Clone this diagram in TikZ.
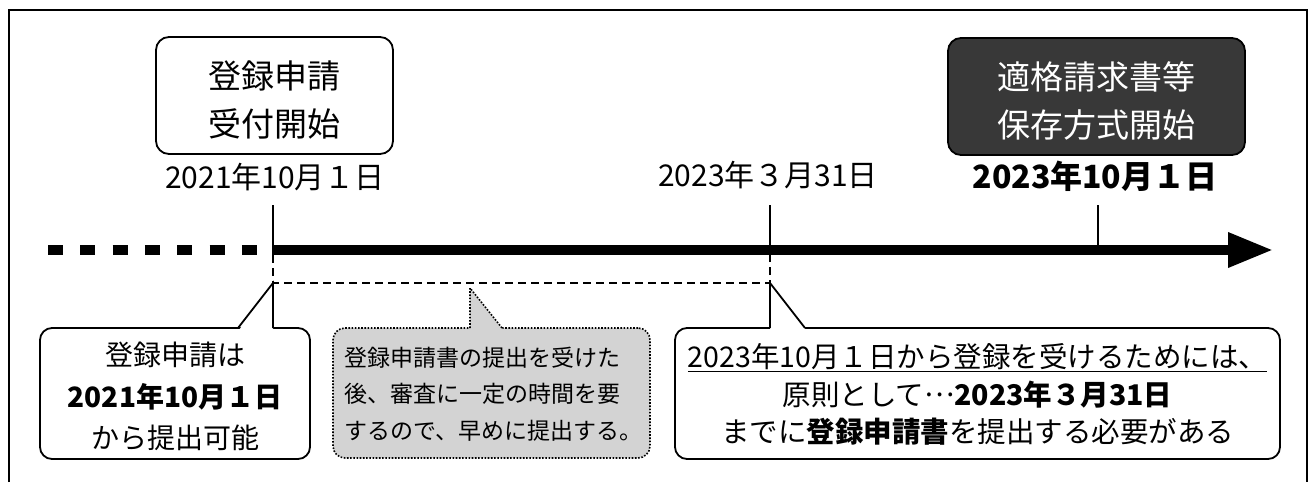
\documentclass[tikz,border=0pt]{standalone}
\usepackage{fontspec}
\setmainfont{Noto Sans CJK JP}
\usetikzlibrary{arrows.meta,calc}
\definecolor{darkbox}{HTML}{383838}
\definecolor{bubblegray}{HTML}{D3D3D3}
\newcommand{\midellipsis}{\raisebox{0.3em}{…}}
\begin{document}
\begin{tikzpicture}[x=1pt,y=-1pt,
  boxline/.style={line width=1.8pt},
  titlebox/.style={draw, boxline, rounded corners=13pt, minimum width=237pt, minimum height=117pt, inner sep=0pt},
  darktitle/.style={titlebox, fill=darkbox, minimum width=297pt},
  titletext/.style={align=center, inner sep=0pt, font=\fontsize{33}{48}\selectfont},
  datetext/.style={inner sep=0pt, text height=0.88em, text depth=0.12em, font=\fontsize{30}{36}\selectfont},
  calloutbox/.style={draw, boxline, fill=white, rounded corners=12pt, inner sep=0pt},
  bubblebox/.style={draw, line width=1.6pt, dash pattern=on 1.6pt off 1.6pt, fill=bubblegray, rounded corners=12pt, inner sep=0pt},
  tickline/.style={line width=1.8pt},
  bracketline/.style={line width=1.8pt, dash pattern=on 8pt off 5pt},
]
\useasboundingbox (0,0) rectangle (1311,482);
% outer frame (open at the bottom)
\draw[line width=1.8pt] (9,482) -- (9,10) -- (1307,10) -- (1307,482);

% title boxes
\node[titlebox] (reg) at (274.5,95.5) {};
\node[titletext] (regT) at ($(reg.center)+(0,4.5)$) {登録申請\\受付開始};
\node[darktitle] (inv) at (1096.5,96.5) {};
\node[titletext, text=white] (invT) at ($(inv.center)+(0,4)$) {適格請求書等\\保存方式開始};

% dates
\node[datetext] (dateA) at (275,185) {2021年10月１日};
\node[datetext] (dateB) at (768,183) {2023年３月31日};
\node[datetext, font=\fontsize{32}{38}\selectfont\bfseries] (dateC) at (1095,185) {2023年10月１日};

% timeline
\coordinate (tl0) at (48,250);
\coordinate (tlA) at (261,250);
\coordinate (tl1) at (272,250);
\coordinate (tlend) at (1273,250);
\draw[line width=10pt, dash pattern=on 15pt off 17.3pt] (tl0) -- (tlA);
\draw[line width=9.5pt, -{Triangle[length=45pt,width=33pt]}] (tl1) -- (tlend);

% ticks
\coordinate (t1top) at (273,205);
\coordinate (t1) at (273,250);
\coordinate (t2top) at (770,205);
\coordinate (t2) at (770,250);
\coordinate (t3top) at (1098,205);
\coordinate (t3) at (1098,250);
\draw[tickline] (t1top) -- (t1);
\draw[tickline] (t2top) -- (t2);
\draw[tickline] (t3top) -- (t3);

% dashed bracket
\coordinate (b1) at (273,255);
\coordinate (b1c) at (273,283);
\coordinate (b2c) at (770,283);
\coordinate (b2) at (770,255);
\draw[bracketline] (b1) -- (b1c) -- (b2c) -- (b2);

% left callout
\node[calloutbox, minimum width=270pt, minimum height=131pt] (cl) at (175,393.5) {};
\coordinate (clA) at (238,328);
\coordinate (clB) at (273,328);
\fill[white] (239,330) -- (b1c) -- (273,330) -- cycle;
\draw[boxline, line join=miter] (clA) -- (b1c) -- (clB);
\node[align=center, inner sep=0pt, font=\fontsize{28}{41.5}\selectfont] (clT) at ($(cl.center)+(0,3)$)
  {登録申請は\\\textbf{2021年10月１日}\\から提出可能};

% middle bubble
\coordinate (mp) at (470,288);
\coordinate (mA) at (470,328);
\coordinate (mB) at (502,328);
\node[bubblebox, minimum width=317pt, minimum height=130pt] (mb) at (491.5,393) {};
\fill[bubblegray] (470,330) -- (mp) -- (503.5,330) -- cycle;
\draw[line width=1.6pt, dash pattern=on 1.6pt off 1.6pt] (mA) -- (mp) -- (mB);
\node[align=left, inner sep=0pt, font=\fontsize{23}{36.5}\selectfont] (mbT) at ($(mb.center)+(2,1)$)
  {登録申請書の提出を受けた\\後、審査に一定の時間を要\\するので、早めに提出する。};

% right callout
\node[calloutbox, minimum width=605pt, minimum height=131pt] (cr) at (977.5,393.5) {};
\coordinate (crA) at (770,328);
\coordinate (crB) at (805,328);
\fill[white] (770,330) -- (b2c) -- (806,330) -- cycle;
\draw[boxline, line join=miter] (crA) -- (b2c) -- (crB);
\node[align=center, inner sep=0pt, font=\fontsize{28.5}{37.5}\selectfont] (crT) at ($(cr.center)+(0,1)$)
  {\underline{2023年10月１日から登録を受けるためには、}\\原則として\midellipsis\textbf{2023年３月31日}\\までに\textbf{登録申請書}を提出する必要がある};
\end{tikzpicture}
\end{document}
